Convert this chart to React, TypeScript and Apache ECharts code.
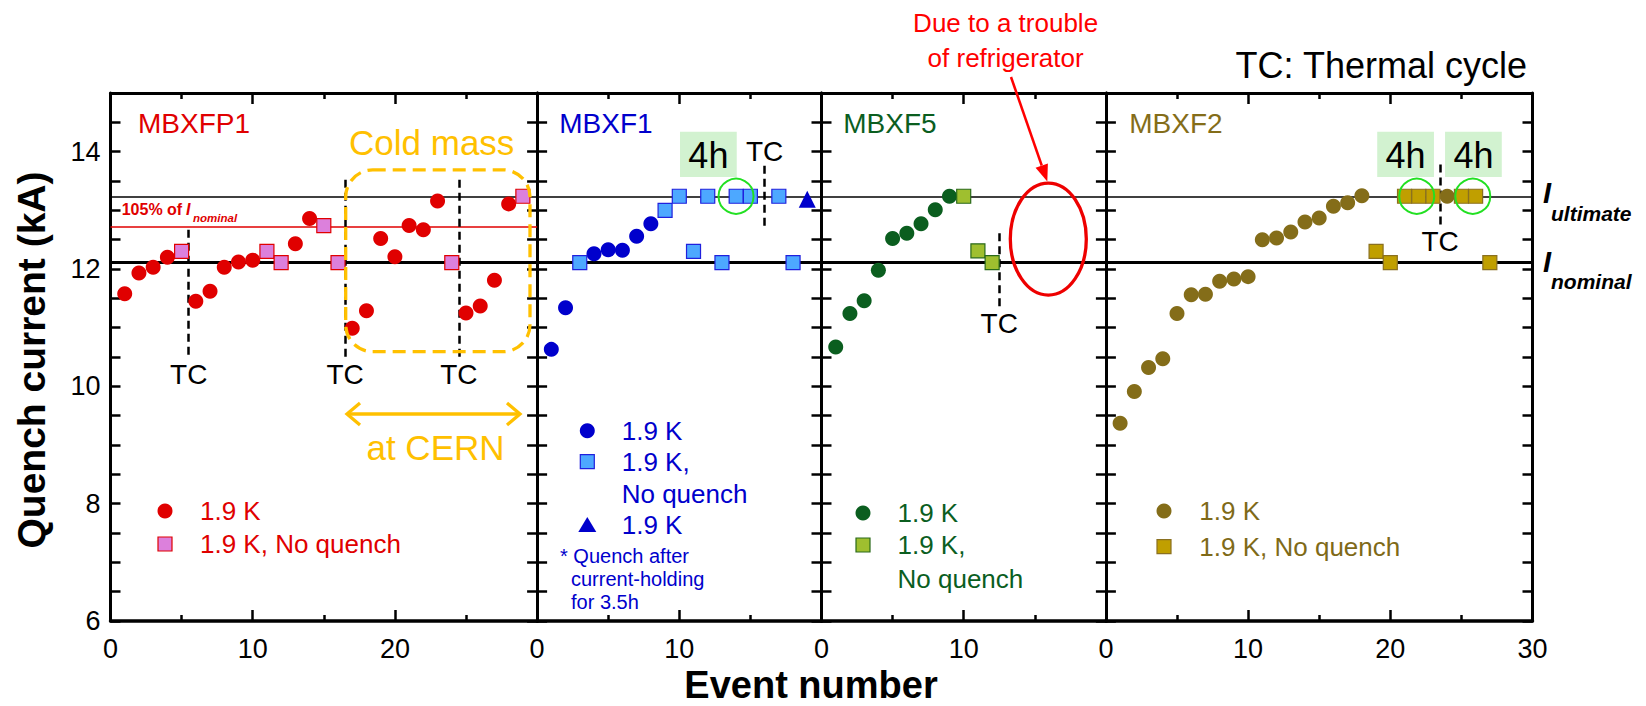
import React, { useEffect, useRef } from "react";
import * as echarts from "echarts";

const FONT = "'Liberation Sans', Arial, Helvetica, sans-serif";

const PANEL_NAMES = ["MBXFP1", "MBXF1", "MBXF5", "MBXF2"];
const PANEL_XMAX = [30, 20, 20, 30];
const PANEL_COLORS = ["#e00000", "#0000cc", "#0b5e1f", "#846d19"];
const SQUARE_FILL = ["#dc80dc", "#4da8ff", "#9fbf2f", "#c09f00"];
const SQUARE_STROKE = ["#e00000", "#2020dd", "#2a6a1a", "#8a7020"];

const I_NOMINAL = 12.11;
const I_ULTIMATE = 13.24;
const I_105 = 12.72;

// MBXFP1
const fp1Quench = [[1, 11.58], [2, 11.93], [3, 12.03], [4, 12.2], [6, 11.45], [7, 11.62], [8, 12.03], [9, 12.12], [10, 12.15], [13, 12.43], [14, 12.86], [17, 10.99], [18, 11.29], [19, 12.52], [20, 12.21], [21, 12.74], [22, 12.67], [23, 13.16], [25, 11.25], [26, 11.37], [27, 11.81], [28, 13.11]];
const fp1NoQuench = [[5, 12.3], [11, 12.3], [12, 12.11], [15, 12.74], [16, 12.11], [24, 12.11], [29, 13.24]];
// MBXF1
const f1Quench = [[1, 10.63], [2, 11.34], [4, 12.26], [5, 12.33], [6, 12.32], [7, 12.56], [8, 12.77]];
const f1NoQuench = [[3, 12.11], [9, 13.0], [10, 13.24], [11, 12.3], [12, 13.24], [13, 12.11], [14, 13.24], [15, 13.24], [17, 13.24], [18, 12.11]];
const f1QuenchAfterHold = [[19, 13.19]];
// MBXF5
const f5Quench = [[1, 10.67], [2, 11.24], [3, 11.46], [4, 11.98], [5, 12.52], [6, 12.61], [7, 12.77], [8, 13.01], [9, 13.24]];
const f5NoQuench = [[10, 13.24], [11, 12.31], [12, 12.11]];
// MBXF2
const f2Quench = [[1, 9.37], [2, 9.91], [3, 10.32], [4, 10.47], [5, 11.24], [6, 11.56], [7, 11.57], [8, 11.79], [9, 11.83], [10, 11.87], [11, 12.5], [12, 12.53], [13, 12.63], [14, 12.8], [15, 12.87], [16, 13.07], [17, 13.13], [18, 13.25], [24, 13.24]];
const f2NoQuench = [[19, 12.3], [20, 12.11], [21, 13.24], [22, 13.24], [23, 13.24], [25, 13.24], [26, 13.24], [27, 12.11]];

const QUENCH = [fp1Quench, f1Quench, f5Quench, f2Quench];
const NO_QUENCH = [fp1NoQuench, f1NoQuench, f5NoQuench, f2NoQuench];

// Thermal cycles
const TC_PANEL = [0, 0, 0, 1, 2, 3];
const TC_X = [5.5, 16.5, 24.5, 16, 12.5, 23.5];
const TC_TOP = [12.67, 13.52, 13.52, 13.76, 12.61, 13.78];
const TC_BOTTOM = [10.47, 10.47, 10.47, 12.73, 11.36, 12.73];
const TC_LABEL_Y = [10.2, 10.2, 10.2, 14.0, 11.07, 12.47];

// 4h holding boxes and circles
const HOLD_BOX_PANEL = [1, 3, 3];
const HOLD_BOX_X0 = [10.05, 19.08, 23.85];
const HOLD_BOX_X1 = [14.04, 23.07, 27.84];
const HOLD_CIRCLE_PANEL = [1, 3, 3];
const HOLD_CIRCLE_X = [13.99, 21.86, 25.8];

const GRID_LEFT = [110.5, 537.1, 821.5, 1105.9];
const GRID_WIDTH = [426.6, 284.4, 284.4, 426.6];
const GRID_TOP = 93;
const GRID_HEIGHT = 528;

export default function App() {
  const ref = useRef<HTMLDivElement>(null);

  useEffect(() => {
    if (!ref.current) return;
    const chart = echarts.init(ref.current, undefined, { renderer: "svg" });

    const tickStyle = { color: "#000", width: 2.5 };
    const grids: any[] = [];
    const xAxes: any[] = [];
    const yAxes: any[] = [];
    const series: any[] = [];

    for (let i = 0; i < 4; i++) {
      grids.push({ left: GRID_LEFT[i], top: GRID_TOP, width: GRID_WIDTH[i], height: GRID_HEIGHT, containLabel: false });
      for (const pos of ["bottom", "top"]) {
        xAxes.push({
          type: "value",
          gridIndex: i,
          position: pos,
          min: 0,
          max: PANEL_XMAX[i],
          interval: 10,
          axisLine: { show: true, onZero: false, lineStyle: { color: "#000", width: pos === "bottom" ? 3.5 : 3 } },
          axisTick: { show: true, inside: true, length: 11, lineStyle: tickStyle },
          minorTick: { show: true, splitNumber: 2, length: 6, lineStyle: tickStyle },
          splitLine: { show: false },
          axisLabel: {
            show: pos === "bottom",
            showMaxLabel: i === 3,
            fontSize: 27,
            fontFamily: FONT,
            color: "#000",
            margin: 14,
          },
        });
      }
      for (const pos of ["left", "right"]) {
        yAxes.push({
          type: "value",
          gridIndex: i,
          position: pos,
          min: 6,
          max: 15,
          interval: 0.5,
          axisLine: { show: true, onZero: false, lineStyle: { color: "#000", width: 3 } },
          axisTick: { show: true, inside: true, length: 10, lineStyle: tickStyle },
          splitLine: { show: false },
          axisLabel: {
            show: pos === "left" && i === 0,
            fontSize: 27,
            fontFamily: FONT,
            color: "#000",
            margin: 10,
            formatter: (v: number) => (Math.abs(v % 2) < 1e-9 ? String(v) : ""),
          },
        });
      }

      const markData: any[] = [
        { yAxis: I_NOMINAL, lineStyle: { color: "#000", width: 3, type: "solid" } },
        { yAxis: I_ULTIMATE, lineStyle: { color: "#000", width: 1.5, type: "solid" } },
      ];
      if (i === 0) markData.push({ yAxis: I_105, lineStyle: { color: "#e00000", width: 1.5, type: "solid" } });
      TC_X.forEach((x, k) => {
        if (TC_PANEL[k] !== i) return;
        markData.push([
          { coord: [x, TC_TOP[k]], lineStyle: { color: "#000", width: 2.5, type: [8, 5] } },
          { coord: [x, TC_BOTTOM[k]] },
        ]);
      });

      series.push({
        type: "scatter",
        name: PANEL_NAMES[i] + " 1.9 K",
        xAxisIndex: 2 * i,
        yAxisIndex: 2 * i,
        data: QUENCH[i],
        symbol: "circle",
        symbolSize: 15,
        z: 10,
        itemStyle: { color: PANEL_COLORS[i], opacity: 1 },
        markLine: {
          silent: true,
          symbol: "none",
          z: 3,
          label: { show: false },
          data: markData,
        },
      });
      series.push({
        type: "scatter",
        name: PANEL_NAMES[i] + " 1.9 K, No quench",
        xAxisIndex: 2 * i,
        yAxisIndex: 2 * i,
        data: NO_QUENCH[i],
        symbol: "rect",
        symbolSize: 14,
        z: 11,
        itemStyle: { color: SQUARE_FILL[i], borderColor: SQUARE_STROKE[i], borderWidth: 1.2, opacity: 1 },
      });
      if (i === 1) {
        series.push({
          type: "scatter",
          name: "MBXF1 1.9 K after holding",
          xAxisIndex: 2,
          yAxisIndex: 2,
          data: f1QuenchAfterHold,
          symbol: "triangle",
          symbolSize: 17,
          z: 11,
          itemStyle: { color: "#0000cc", opacity: 1 },
        });
      }
    }

    chart.setOption({
      animation: false,
      backgroundColor: "#fff",
      grid: grids,
      xAxis: xAxes,
      yAxis: yAxes,
      series,
    });

    const toPx = (p: number, x: number, y: number) =>
      chart.convertToPixel({ xAxisIndex: 2 * p, yAxisIndex: 2 * p } as any, [x, y]) as number[];

    const txt = (text: string, x: number, y: number, size: number, color: string, extra: any = {}) => ({
      type: "text",
      x,
      y,
      z: 50,
      style: {
        text,
        fill: color,
        fontSize: size,
        fontFamily: FONT,
        fontWeight: extra.weight || "normal",
        fontStyle: extra.style || "normal",
        align: extra.align || "left",
        verticalAlign: "middle",
      },
      rotation: extra.rotation || 0,
    });

    const g: any[] = [];

    // axis titles
    g.push(txt("Quench current (kA)", 31, 360, 39, "#000", { weight: "bold", align: "center", rotation: Math.PI / 2 }));
    g.push(txt("Event number", 811, 685, 38, "#000", { weight: "bold", align: "center" }));

    // panel titles
    const titleX = [138, 559.3, 843.3, 1129.3];
    PANEL_NAMES.forEach((n, i) => g.push(txt(n, titleX[i], 123.3, 28, PANEL_COLORS[i])));

    // TC labels
    TC_X.forEach((x, k) => {
      const [px, py] = toPx(TC_PANEL[k], x, TC_LABEL_Y[k]);
      g.push(txt("TC", px, py, 28, "#000", { align: "center" }));
    });

    // 4h boxes
    HOLD_BOX_PANEL.forEach((p, k) => {
      const [x0, y0] = toPx(p, HOLD_BOX_X0[k], 14.34);
      const [x1, y1] = toPx(p, HOLD_BOX_X1[k], 13.57);
      g.push({ type: "rect", z: 20, shape: { x: x0, y: y0, width: x1 - x0, height: y1 - y0 }, style: { fill: "#d2f2d0" } });
      g.push(txt("4h", (x0 + x1) / 2, (y0 + y1) / 2 + 1, 36, "#000", { align: "center" }));
    });
    // green circles
    HOLD_CIRCLE_PANEL.forEach((p, k) => {
      const [cx, cy] = toPx(p, HOLD_CIRCLE_X[k], I_ULTIMATE);
      g.push({ type: "circle", z: 60, shape: { cx, cy, r: 17.5 }, style: { fill: "none", stroke: "#22e022", lineWidth: 2 } });
    });

    // Cold mass box
    {
      const [x0, y0] = toPx(0, 16.54, 13.69);
      const [x1, y1] = toPx(0, 29.5, 10.59);
      g.push({
        type: "rect",
        z: 40,
        shape: { x: x0, y: y0, width: x1 - x0, height: y1 - y0, r: 27 },
        style: { fill: "none", stroke: "#ffc000", lineWidth: 3.3, lineDash: [13, 7] },
      });
    }
    g.push(txt("Cold mass", 431.7, 142.5, 35, "#ffc000", { align: "center" }));
    g.push(txt("at CERN", 435.5, 447.5, 35, "#ffc000", { align: "center" }));
    // double arrow
    const orange = { stroke: "#ffc000", lineWidth: 3.3, fill: "none" };
    g.push({ type: "line", z: 40, shape: { x1: 348, y1: 414, x2: 519, y2: 414 }, style: orange });
    g.push({ type: "polyline", z: 40, shape: { points: [[360, 403], [347, 414], [360, 425]] }, style: orange });
    g.push({ type: "polyline", z: 40, shape: { points: [[507, 403], [520, 414], [507, 425]] }, style: orange });

    // 105% label
    g.push(txt("105% of", 121.7, 209.3, 16, "#e00000", { weight: "bold" }));
    g.push(txt("I", 186, 209.3, 16, "#e00000", { weight: "bold", style: "italic" }));
    g.push(txt("nominal", 193, 218, 11.5, "#e00000", { weight: "bold", style: "italic" }));

    // right-side labels
    g.push(txt("I", 1543, 193.3, 29, "#000", { weight: "bold", style: "italic" }));
    g.push(txt("ultimate", 1551, 213, 21, "#000", { weight: "bold", style: "italic" }));
    g.push(txt("I", 1543, 261.7, 29, "#000", { weight: "bold", style: "italic" }));
    g.push(txt("nominal", 1551, 281.5, 21, "#000", { weight: "bold", style: "italic" }));

    // thermal cycle note
    g.push(txt("TC: Thermal cycle", 1527, 65, 36, "#000", { align: "right" }));

    // refrigerator trouble
    g.push(txt("Due to a trouble", 1005.6, 23, 26, "#ff0000", { align: "center" }));
    g.push(txt("of refrigerator", 1005.6, 57.7, 26, "#ff0000", { align: "center" }));
    {
      const [ex, ey] = toPx(2, 15.95, 12.51);
      g.push({ type: "ellipse", z: 40, shape: { cx: ex, cy: ey, rx: 38, ry: 56 }, style: { fill: "none", stroke: "#ee0000", lineWidth: 3.3 } });
      const sx = 1011, sy = 77;
      const tx = ex - 1, ty = ey - 57.5;
      const dx = tx - sx, dy = ty - sy;
      const L = Math.hypot(dx, dy);
      const ux = dx / L, uy = dy / L;
      const nx = uy, ny = -ux;
      const bx = tx - 17 * ux, by = ty - 17 * uy;
      g.push({ type: "line", z: 40, shape: { x1: sx, y1: sy, x2: bx, y2: by }, style: { stroke: "#ff0000", lineWidth: 2.5 } });
      g.push({
        type: "polygon",
        z: 40,
        shape: { points: [[tx, ty], [bx + 6.5 * nx, by + 6.5 * ny], [bx - 6.5 * nx, by - 6.5 * ny]] },
        style: { fill: "#ff0000" },
      });
    }

    // legends
    const circ = (cx: number, cy: number, color: string) => ({ type: "circle", z: 50, shape: { cx, cy, r: 7.5 }, style: { fill: color } });
    const sq = (cx: number, cy: number, i: number) => ({
      type: "rect",
      z: 50,
      shape: { x: cx - 7, y: cy - 7, width: 14, height: 14 },
      style: { fill: SQUARE_FILL[i], stroke: SQUARE_STROKE[i], lineWidth: 1.2 },
    });
    // panel 1
    g.push(circ(165, 511, PANEL_COLORS[0]));
    g.push(txt("1.9 K", 200, 511, 26, PANEL_COLORS[0]));
    g.push(sq(165, 544, 0));
    g.push(txt("1.9 K, No quench", 200, 544, 26, PANEL_COLORS[0]));
    // panel 2
    g.push(circ(587.3, 430.7, PANEL_COLORS[1]));
    g.push(txt("1.9 K", 621.7, 430.7, 26, PANEL_COLORS[1]));
    g.push(sq(587.3, 461.7, 1));
    g.push(txt("1.9 K,", 621.7, 461.7, 26, PANEL_COLORS[1]));
    g.push(txt("No quench", 621.7, 494.3, 26, PANEL_COLORS[1]));
    g.push({ type: "polygon", z: 50, shape: { points: [[587.3, 517], [578.3, 532], [596.3, 532]] }, style: { fill: PANEL_COLORS[1] } });
    g.push(txt("1.9 K", 621.7, 525, 26, PANEL_COLORS[1]));
    g.push(txt("* Quench after", 560, 556, 20, PANEL_COLORS[1]));
    g.push(txt("current-holding", 571, 579, 20, PANEL_COLORS[1]));
    g.push(txt("for 3.5h", 571, 601.7, 20, PANEL_COLORS[1]));
    // panel 3
    g.push(circ(863, 513, PANEL_COLORS[2]));
    g.push(txt("1.9 K", 897.5, 513, 26, PANEL_COLORS[2]));
    g.push(sq(863, 545, 2));
    g.push(txt("1.9 K,", 897.5, 545, 26, PANEL_COLORS[2]));
    g.push(txt("No quench", 897.5, 578.5, 26, PANEL_COLORS[2]));
    // panel 4
    g.push(circ(1164, 511, PANEL_COLORS[3]));
    g.push(txt("1.9 K", 1199.3, 511, 26, "#7f6a18"));
    g.push(sq(1164, 546.7, 3));
    g.push(txt("1.9 K, No quench", 1199.3, 546.7, 26, "#7f6a18"));

    chart.setOption({ graphic: g });

    return () => chart.dispose();
  }, []);

  return <div ref={ref} style={{ position: "fixed", left: 0, top: 0, width: 1646, height: 706, background: "#fff" }} />;
}
